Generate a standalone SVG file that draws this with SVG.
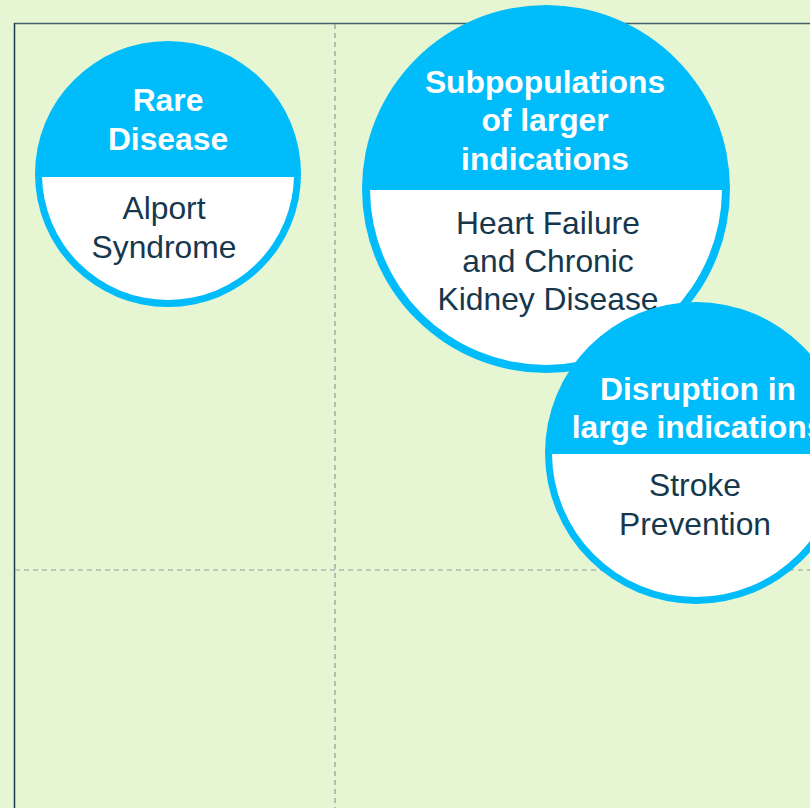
<svg xmlns="http://www.w3.org/2000/svg" width="810" height="808" viewBox="0 0 810 808">
<style>
.ring{fill:#00bcfa}
.inner{fill:#ffffff}
.t{font-family:"Liberation Sans",Arial,sans-serif;font-size:31.8px;text-anchor:middle}
.h{fill:#ffffff;font-weight:bold}
.b{fill:#17374d}
.grid{stroke:#869c9a;stroke-width:1.2;stroke-dasharray:5 4;fill:none}
</style>
<defs>
<clipPath id="c1"><rect x="0" y="177" width="810" height="300"/></clipPath>
<clipPath id="c2"><rect x="0" y="190" width="810" height="400"/></clipPath>
<clipPath id="c3"><rect x="0" y="454" width="810" height="354"/></clipPath>
</defs>
<rect width="810" height="808" fill="#e6f5d2"/>
<g id="frame">
<line x1="14" y1="23.5" x2="810" y2="23.5" stroke="#46616e" stroke-width="1.5"/>
<line x1="14.5" y1="23" x2="14.5" y2="808" stroke="#1d3b52" stroke-width="1.5"/>
<line class="grid" x1="15" y1="570" x2="810" y2="570"/>
<line class="grid" x1="335" y1="24" x2="335" y2="808"/>
</g>
<g id="rare-disease">
<circle class="ring" cx="168" cy="174" r="133"/>
<circle class="inner" cx="168" cy="174" r="126" clip-path="url(#c1)"/>
<text class="t h" x="168" y="111">Rare</text>
<text class="t h" x="168" y="150">Disease</text>
<text class="t b" x="164" y="219">Alport</text>
<text class="t b" x="164" y="258">Syndrome</text>
</g>
<g id="subpopulations">
<circle class="ring" cx="546" cy="189" r="184"/>
<circle class="inner" cx="546" cy="189" r="176" clip-path="url(#c2)"/>
<text class="t h" x="545" y="93">Subpopulations</text>
<text class="t h" x="545" y="131">of larger</text>
<text class="t h" x="545" y="170">indications</text>
<text class="t b" x="548" y="234">Heart Failure</text>
<text class="t b" x="548" y="272">and Chronic</text>
<text class="t b" x="548" y="310">Kidney Disease</text>
</g>
<g id="disruption">
<circle class="ring" cx="696" cy="453" r="151"/>
<circle class="inner" cx="696" cy="453" r="144" clip-path="url(#c3)"/>
<text class="t h" x="698" y="400">Disruption in</text>
<text class="t h" x="698" y="438">large indications</text>
<text class="t b" x="695" y="496">Stroke</text>
<text class="t b" x="695" y="535">Prevention</text>
</g>
<g id="connectors"/>
</svg>
